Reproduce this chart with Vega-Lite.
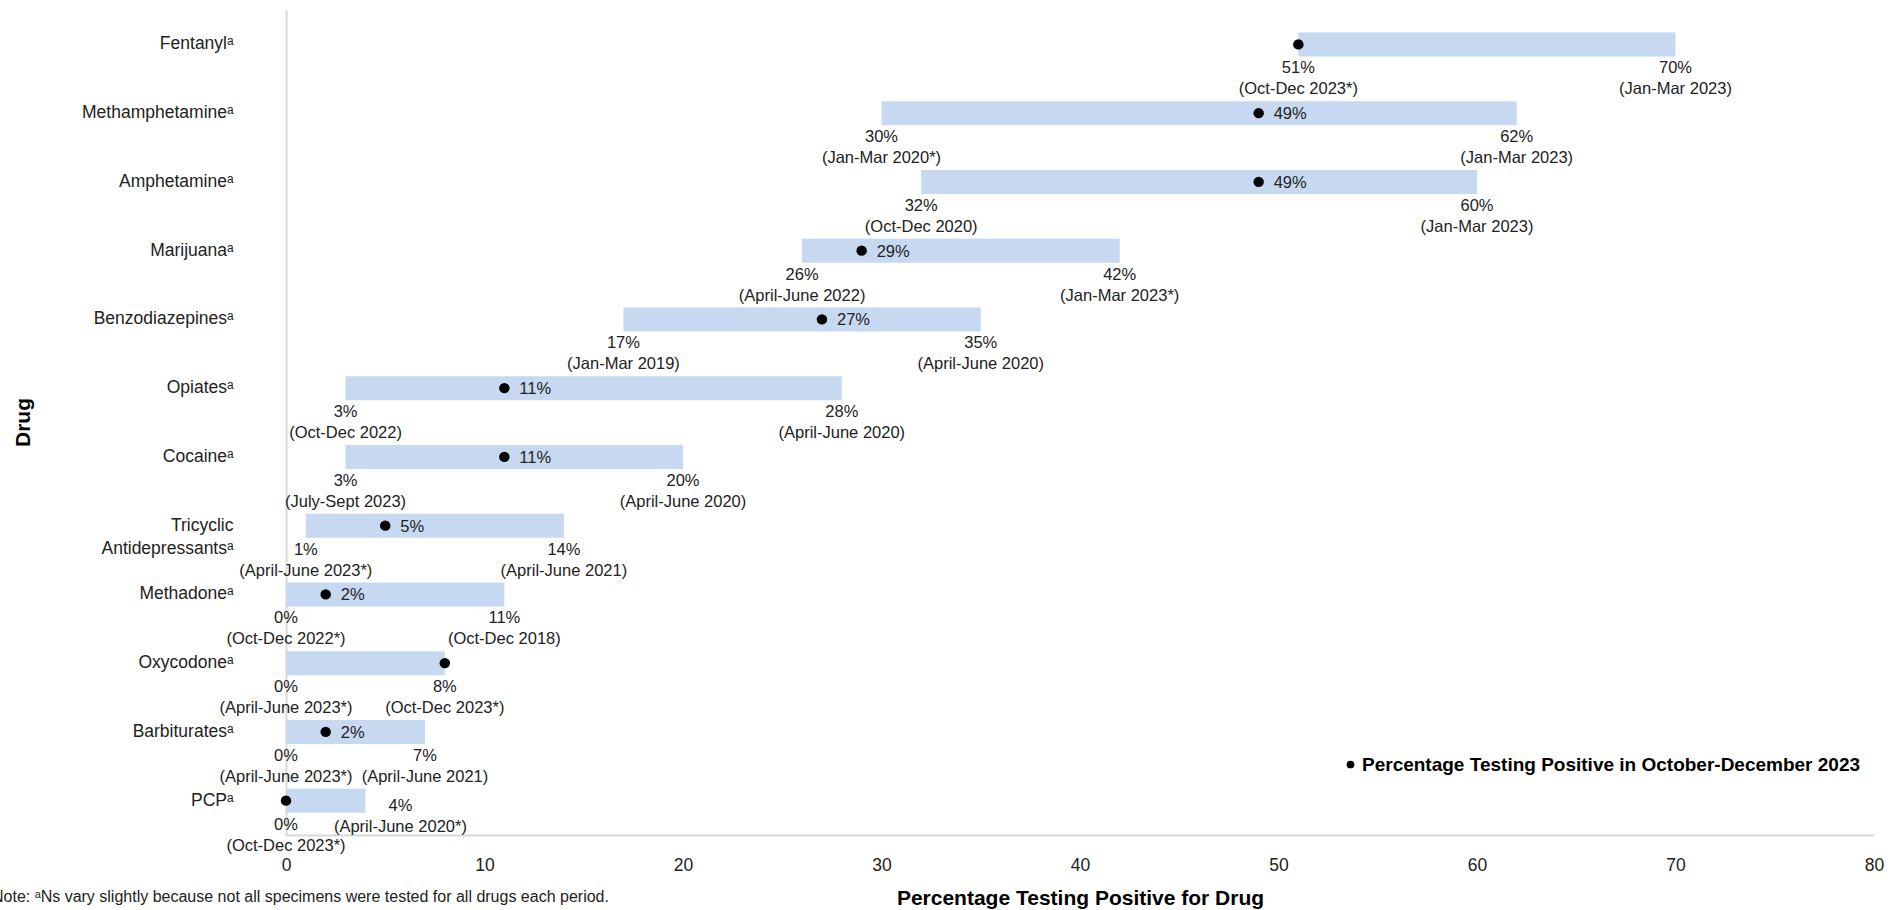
{
  "$schema": "https://vega.github.io/schema/vega-lite/v6.json",
  "width": 1588,
  "height": 825,
  "autosize": {"type": "none"},
  "padding": {"left": 286, "top": 10, "right": 24, "bottom": 75},
  "background": "white",
  "config": {
    "font": "Liberation Sans",
    "view": {"stroke": null},
    "text": {"font": "Liberation Sans", "fontSize": 16.5, "color": "#222222"}
  },
  "title": {
    "text": "Note: ᵃNs vary slightly because not all specimens were tested for all drugs each period.",
    "orient": "bottom",
    "anchor": "start",
    "frame": "group",
    "fontSize": 16,
    "fontWeight": "normal",
    "color": "#222222",
    "dx": -294,
    "offset": -19
  },
  "datasets": {
    "ranges": [
      {"drug": "Fentanylᵃ", "min": 51, "max": 70, "current": 51},
      {"drug": "Methamphetamineᵃ", "min": 30, "max": 62, "current": 49},
      {"drug": "Amphetamineᵃ", "min": 32, "max": 60, "current": 49},
      {"drug": "Marijuanaᵃ", "min": 26, "max": 42, "current": 29},
      {"drug": "Benzodiazepinesᵃ", "min": 17, "max": 35, "current": 27},
      {"drug": "Opiatesᵃ", "min": 3, "max": 28, "current": 11},
      {"drug": "Cocaineᵃ", "min": 3, "max": 20, "current": 11},
      {"drug": "Tricyclic Antidepressantsᵃ", "min": 1, "max": 14, "current": 5},
      {"drug": "Methadoneᵃ", "min": 0, "max": 11, "current": 2},
      {"drug": "Oxycodoneᵃ", "min": 0, "max": 8, "current": 8},
      {"drug": "Barbituratesᵃ", "min": 0, "max": 7, "current": 2},
      {"drug": "PCPᵃ", "min": 0, "max": 4, "current": 0}
    ],
    "labels": [
      {"drug": "Fentanylᵃ", "kind": "min", "value": 51, "pct": "51%", "period": "(Oct-Dec 2023*)"},
      {"drug": "Fentanylᵃ", "kind": "max", "value": 70, "pct": "70%", "period": "(Jan-Mar 2023)"},
      {"drug": "Methamphetamineᵃ", "kind": "min", "value": 30, "pct": "30%", "period": "(Jan-Mar 2020*)"},
      {"drug": "Methamphetamineᵃ", "kind": "max", "value": 62, "pct": "62%", "period": "(Jan-Mar 2023)"},
      {"drug": "Methamphetamineᵃ", "kind": "current", "value": 49, "pct": "49%", "period": ""},
      {"drug": "Amphetamineᵃ", "kind": "min", "value": 32, "pct": "32%", "period": "(Oct-Dec 2020)"},
      {"drug": "Amphetamineᵃ", "kind": "max", "value": 60, "pct": "60%", "period": "(Jan-Mar 2023)"},
      {"drug": "Amphetamineᵃ", "kind": "current", "value": 49, "pct": "49%", "period": ""},
      {"drug": "Marijuanaᵃ", "kind": "min", "value": 26, "pct": "26%", "period": "(April-June 2022)"},
      {"drug": "Marijuanaᵃ", "kind": "max", "value": 42, "pct": "42%", "period": "(Jan-Mar 2023*)"},
      {"drug": "Marijuanaᵃ", "kind": "current", "value": 29, "pct": "29%", "period": ""},
      {"drug": "Benzodiazepinesᵃ", "kind": "min", "value": 17, "pct": "17%", "period": "(Jan-Mar 2019)"},
      {"drug": "Benzodiazepinesᵃ", "kind": "max", "value": 35, "pct": "35%", "period": "(April-June 2020)"},
      {"drug": "Benzodiazepinesᵃ", "kind": "current", "value": 27, "pct": "27%", "period": ""},
      {"drug": "Opiatesᵃ", "kind": "min", "value": 3, "pct": "3%", "period": "(Oct-Dec 2022)"},
      {"drug": "Opiatesᵃ", "kind": "max", "value": 28, "pct": "28%", "period": "(April-June 2020)"},
      {"drug": "Opiatesᵃ", "kind": "current", "value": 11, "pct": "11%", "period": ""},
      {"drug": "Cocaineᵃ", "kind": "min", "value": 3, "pct": "3%", "period": "(July-Sept 2023)"},
      {"drug": "Cocaineᵃ", "kind": "max", "value": 20, "pct": "20%", "period": "(April-June 2020)"},
      {"drug": "Cocaineᵃ", "kind": "current", "value": 11, "pct": "11%", "period": ""},
      {"drug": "Tricyclic Antidepressantsᵃ", "kind": "min", "value": 1, "pct": "1%", "period": "(April-June 2023*)"},
      {"drug": "Tricyclic Antidepressantsᵃ", "kind": "max", "value": 14, "pct": "14%", "period": "(April-June 2021)"},
      {"drug": "Tricyclic Antidepressantsᵃ", "kind": "current", "value": 5, "pct": "5%", "period": ""},
      {"drug": "Methadoneᵃ", "kind": "min", "value": 0, "pct": "0%", "period": "(Oct-Dec 2022*)"},
      {"drug": "Methadoneᵃ", "kind": "max", "value": 11, "pct": "11%", "period": "(Oct-Dec 2018)"},
      {"drug": "Methadoneᵃ", "kind": "current", "value": 2, "pct": "2%", "period": ""},
      {"drug": "Oxycodoneᵃ", "kind": "min", "value": 0, "pct": "0%", "period": "(April-June 2023*)"},
      {"drug": "Oxycodoneᵃ", "kind": "max", "value": 8, "pct": "8%", "period": "(Oct-Dec 2023*)"},
      {"drug": "Barbituratesᵃ", "kind": "min", "value": 0, "pct": "0%", "period": "(April-June 2023*)"},
      {"drug": "Barbituratesᵃ", "kind": "max", "value": 7, "pct": "7%", "period": "(April-June 2021)"},
      {"drug": "Barbituratesᵃ", "kind": "current", "value": 2, "pct": "2%", "period": ""},
      {"drug": "PCPᵃ", "kind": "min", "value": 0, "pct": "0%", "period": "(Oct-Dec 2023*)"},
      {"drug": "PCPᵃ", "kind": "max", "value": 4, "pct": "4%", "period": "(April-June 2020*)"}
    ]
  },
  "encoding": {
    "y": {
      "field": "drug",
      "type": "nominal",
      "sort": null,
      "scale": {
        "domain": ["Fentanylᵃ", "Methamphetamineᵃ", "Amphetamineᵃ", "Marijuanaᵃ", "Benzodiazepinesᵃ", "Opiatesᵃ", "Cocaineᵃ", "Tricyclic Antidepressantsᵃ", "Methadoneᵃ", "Oxycodoneᵃ", "Barbituratesᵃ", "PCPᵃ"],
        "paddingInner": 0,
        "paddingOuter": 0
      },
      "axis": {
        "title": "Drug",
        "titleFontSize": 21,
        "titleFontWeight": "bold",
        "titleColor": "#000000",
        "titleX": -263,
        "titleY": 412,
        "titleAngle": -90,
        "titleAlign": "center",
        "titleBaseline": "middle",
        "labelFontSize": 17.5,
        "labelColor": "#222222",
        "labelPadding": 53,
        "labelLineHeight": 23,
        "labelExpr": "datum.value == 'Tricyclic Antidepressantsᵃ' ? ['Tricyclic', 'Antidepressantsᵃ'] : datum.value",
        "ticks": false,
        "domainColor": "#d9d9d9",
        "domainWidth": 2,
        "grid": false
      }
    }
  },
  "layer": [
    {
      "data": {"name": "ranges"},
      "mark": {"type": "bar", "size": 24, "color": "#C6D9F1"},
      "encoding": {
        "x": {
          "field": "min",
          "type": "quantitative",
          "scale": {"domain": [0, 80], "nice": false},
          "axis": {
            "values": [0, 10, 20, 30, 40, 50, 60, 70, 80],
            "grid": false,
            "ticks": false,
            "domainColor": "#d9d9d9",
            "domainWidth": 2,
            "labelFontSize": 17.5,
            "labelColor": "#222222",
            "labelPadding": 21,
            "labelFlush": false,
            "title": "Percentage Testing Positive for Drug",
            "titleFontSize": 21,
            "titleFontWeight": "bold",
            "titleColor": "#000000",
            "titleY": 63,
            "titleBaseline": "middle"
          }
        },
        "x2": {"field": "max"}
      }
    },
    {
      "data": {"name": "ranges"},
      "mark": {"type": "circle", "size": 110, "opacity": 1},
      "encoding": {
        "x": {"field": "current", "type": "quantitative"},
        "color": {
          "datum": "Percentage Testing Positive in October-December 2023",
          "type": "nominal",
          "scale": {"range": ["#000000"]},
          "legend": {
            "title": null,
            "orient": "none",
            "legendX": 1055,
            "legendY": 745,
            "labelFont": "Liberation Sans",
            "labelFontWeight": "bold",
            "labelFontSize": 19,
            "labelColor": "#000000",
            "labelLimit": 800,
            "symbolType": "circle",
            "symbolSize": 60,
            "symbolOpacity": 1,
            "labelOffset": 2,
            "padding": 0
          }
        }
      }
    },
    {
      "data": {"name": "labels"},
      "transform": [{"filter": "datum.kind != 'current' && !(datum.drug == 'PCPᵃ' && datum.kind == 'max')"}],
      "mark": {"type": "text", "baseline": "middle", "align": "center", "dy": 24},
      "encoding": {
        "x": {"field": "value", "type": "quantitative"},
        "text": {"field": "pct"}
      }
    },
    {
      "data": {"name": "labels"},
      "transform": [{"filter": "datum.kind != 'current' && !(datum.drug == 'PCPᵃ' && datum.kind == 'max')"}],
      "mark": {"type": "text", "baseline": "middle", "align": "center", "dy": 45},
      "encoding": {
        "x": {"field": "value", "type": "quantitative"},
        "text": {"field": "period"}
      }
    },
    {
      "data": {"name": "labels"},
      "transform": [{"filter": "datum.drug == 'PCPᵃ' && datum.kind == 'max'"}],
      "mark": {"type": "text", "baseline": "middle", "align": "center", "dx": 35, "dy": 5},
      "encoding": {
        "x": {"field": "value", "type": "quantitative"},
        "text": {"field": "pct"}
      }
    },
    {
      "data": {"name": "labels"},
      "transform": [{"filter": "datum.drug == 'PCPᵃ' && datum.kind == 'max'"}],
      "mark": {"type": "text", "baseline": "middle", "align": "center", "dx": 35, "dy": 26},
      "encoding": {
        "x": {"field": "value", "type": "quantitative"},
        "text": {"field": "period"}
      }
    },
    {
      "data": {"name": "labels"},
      "transform": [{"filter": "datum.kind == 'current'"}],
      "mark": {"type": "text", "baseline": "middle", "align": "left", "dx": 15, "dy": 1},
      "encoding": {
        "x": {"field": "value", "type": "quantitative"},
        "text": {"field": "pct"}
      }
    }
  ]
}
